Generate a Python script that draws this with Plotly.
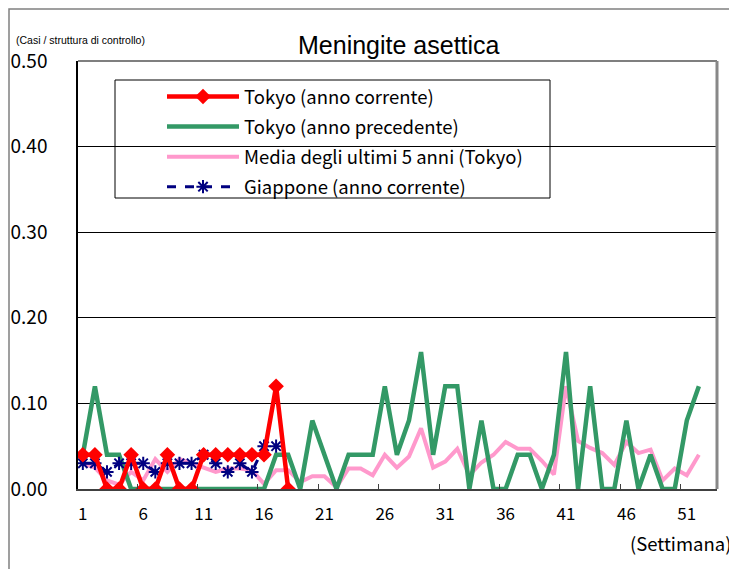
import plotly.graph_objects as go

weeks_all = list(range(1, 53))

tokyo_current_weeks = list(range(1, 19))
tokyo_current = [0.04, 0.04, 0.00, 0.00, 0.04, 0.00, 0.00, 0.04, 0.00, 0.00,
                 0.04, 0.04, 0.04, 0.04, 0.04, 0.04, 0.12, 0.00]

tokyo_previous = [0.04, 0.12, 0.04, 0.04, 0.00, 0.00, 0.00, 0.00, 0.00, 0.00,
                  0.00, 0.00, 0.00, 0.00, 0.00, 0.00, 0.04, 0.04, 0.00, 0.08,
                  0.04, 0.00, 0.04, 0.04, 0.04, 0.12, 0.04, 0.08, 0.16, 0.04,
                  0.12, 0.12, 0.00, 0.08, 0.00, 0.00, 0.04, 0.04, 0.00, 0.04,
                  0.16, 0.00, 0.12, 0.00, 0.00, 0.08, 0.00, 0.04, 0.00, 0.00,
                  0.08, 0.12]

avg_5y = [0.030, 0.025, 0.010, 0.005, 0.020, 0.010, 0.035, 0.020, 0.035, 0.030,
          0.024, 0.020, 0.024, 0.024, 0.022, 0.006, 0.022, 0.022, 0.008, 0.015,
          0.015, 0.002, 0.024, 0.024, 0.016, 0.040, 0.025, 0.038, 0.071, 0.025,
          0.032, 0.047, 0.016, 0.031, 0.040, 0.055, 0.047, 0.047, 0.033, 0.017,
          0.120, 0.056, 0.048, 0.042, 0.028, 0.055, 0.042, 0.046, 0.010, 0.024,
          0.016, 0.040]

japan_weeks = list(range(1, 18))
japan_current = [0.03, 0.03, 0.02, 0.03, 0.03, 0.03, 0.02, 0.03, 0.03, 0.03,
                 0.04, 0.03, 0.02, 0.03, 0.02, 0.05, 0.05]

tick_weeks = list(range(1, 52, 5))
y_ticks = [0.0, 0.1, 0.2, 0.3, 0.4, 0.5]

FONT = "Noto Sans CJK JP, Open Sans, sans-serif"

# The page body adds an 8px offset; the figure is sized so the plot area
# lands at screen x 78..717, y 61..489.
OFF = 8
W, H = 737 - OFF, 569 - OFF

fig = go.Figure()

fig.add_trace(go.Scatter(
    x=weeks_all, y=avg_5y, mode="lines", name="Media degli ultimi 5 anni (Tokyo)",
    line=dict(color="#FF99CC", width=4), legendrank=3, legendgroup="c"))
fig.add_trace(go.Scatter(
    x=weeks_all, y=tokyo_previous, mode="lines", name="Tokyo (anno precedente)",
    line=dict(color="#339966", width=4.5), legendrank=2, legendgroup="b"))
fig.add_trace(go.Scatter(
    x=japan_weeks, y=japan_current, mode="lines+markers", name="Giappone (anno corrente)",
    line=dict(color="#000080", width=3, dash="dash"),
    marker=dict(symbol="asterisk-open", size=11, line=dict(color="#000080", width=2)),
    legendrank=4, legendgroup="d"))
fig.add_trace(go.Scatter(
    x=tokyo_current_weeks, y=tokyo_current, mode="lines+markers", name="Tokyo (anno corrente)",
    line=dict(color="#FF0000", width=4.5),
    marker=dict(symbol="diamond", size=12, color="#FF0000"),
    legendrank=1, legendgroup="a"))

def px_x(p):
    return (p - 78) / 639.0

def px_y(p):
    return (489 - p) / 428.0

fig.update_layout(
    width=W, height=H,
    margin=dict(l=78 - OFF, r=W - (717 - OFF), t=61 - OFF, b=H - (489 - OFF)),
    paper_bgcolor="white", plot_bgcolor="white",
    font=dict(family=FONT, color="black"),
    showlegend=True,
    legend=dict(
        x=px_x(162), y=px_y(78), xanchor="left", yanchor="top",
        bgcolor="rgba(0,0,0,0)", borderwidth=0,
        font=dict(family=FONT, size=18.5, color="black"),
        traceorder="grouped", tracegroupgap=3, itemwidth=72,
    ),
    title=dict(text="Meningite asettica", x=0.502, xref="paper", xanchor="center",
               y=1 - (45 - OFF) / H, yref="container", yanchor="middle",
               font=dict(family="Liberation Sans, Arial, sans-serif", size=25, color="black")),
    xaxis=dict(
        range=[0.6, 53.5], tickmode="array", tickvals=tick_weeks,
        ticktext=[str(w) for w in tick_weeks], ticks="", showgrid=False,
        showline=True, linecolor="#404040", linewidth=2, mirror=False,
        zeroline=False, tickfont=dict(family=FONT, size=17, color="black"),
        ticklabelstandoff=9, automargin=False,
        minor=dict(tickvals=[w - 0.5 for w in tick_weeks], ticks="inside",
                   ticklen=5, tickcolor="#404040", tickwidth=1, showgrid=False),
    ),
    yaxis=dict(
        range=[0, 0.5], tickmode="array", tickvals=y_ticks,
        ticktext=[f"{v:.2f}" for v in y_ticks], ticks="",
        showgrid=True, gridcolor="black", gridwidth=1,
        showline=True, linecolor="black", linewidth=1.5,
        zeroline=False, tickfont=dict(family=FONT, size=19, color="black"),
        ticklabelstandoff=25, automargin=False,
    ),
    shapes=[
        dict(type="line", xref="paper", yref="paper", x0=0, x1=1, y0=1, y1=1,
             line=dict(color="#555555", width=1.5)),
        dict(type="line", xref="paper", yref="paper", x0=1, x1=1, y0=0, y1=1,
             line=dict(color="#888888", width=3)),
        dict(type="rect", xref="paper", yref="paper",
             x0=px_x(115), x1=px_x(550), y0=px_y(198), y1=px_y(80),
             line=dict(color="black", width=1), fillcolor="rgba(0,0,0,0)", layer="below"),
        dict(type="rect", xref="paper", yref="paper",
             x0=px_x(9), x1=px_x(760), y0=px_y(600), y1=px_y(9),
             line=dict(color="#808080", width=1.5), fillcolor="rgba(0,0,0,0)"),
    ],
    annotations=[
        dict(text="(Casi / struttura di controllo)", xref="paper", yref="paper",
             x=px_x(14), y=px_y(40), xanchor="left", yanchor="middle", showarrow=False,
             font=dict(family="Liberation Sans Narrow, Liberation Sans, Arial, sans-serif",
                       size=10.5, color="black")),
        dict(text="(Settimana)", xref="paper", yref="paper",
             x=px_x(733), y=px_y(543), xanchor="right", yanchor="middle", showarrow=False,
             font=dict(family=FONT, size=18.5, color="black")),
    ],
)

fig.write_html("out.html")
